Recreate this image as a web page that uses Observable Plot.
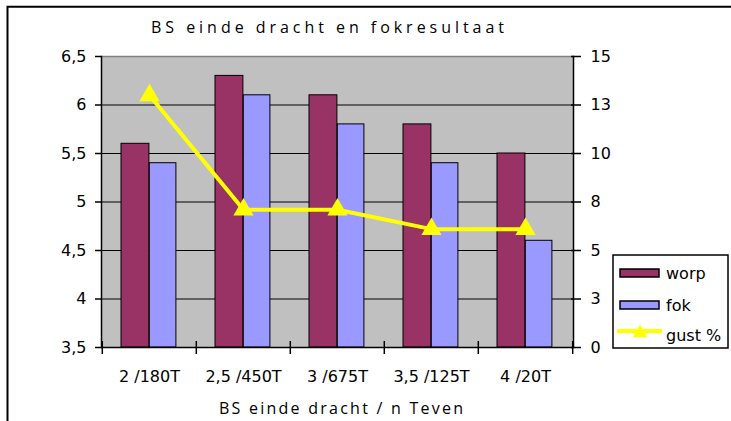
<!DOCTYPE html>
<html><head><meta charset="utf-8">
<script src="https://cdn.jsdelivr.net/npm/d3@7"></script>
<script src="https://cdn.jsdelivr.net/npm/@observablehq/plot@0.6"></script>
<style>body{margin:0;background:#fff;} svg{display:block}</style>
</head><body><div id="chart"></div>
<script>
const categories = ["2 /180T", "2,5 /450T", "3 /675T", "3,5 /125T", "4 /20T"];
const worp = [5.6, 6.3, 6.1, 5.8, 5.5];
const fok = [5.4, 6.1, 5.8, 5.4, 4.6];
const gust = [13.0, 7.1, 7.1, 6.1, 6.1];
const leftTicks = [3.5, 4, 4.5, 5, 5.5, 6, 6.5];
const rightTicks = [0, 2.5, 5, 7.5, 10, 12.5, 15];
const seriesNames = ["worp", "fok", "gust %"];
const title = "BS einde dracht en fokresultaat";
const xTitle = "BS einde dracht / n Teven";

const L0 = 3.5, L1 = 6.5, R0 = 0, R1 = 15;
const toLeft = v => L0 + (v - R0) * (L1 - L0) / (R1 - R0);
const fromLeft = v => R0 + (v - L0) * (R1 - R0) / (L1 - L0);

const data = categories.map((c, i) => ({cat: c, worp: worp[i], fok: fok[i], gust: gust[i]}));

const W = 731, H = 421;
const mL = 101, mR = 158, mT = 56, mB = 74;
const bw = (W - mL - mR) / categories.length;

const fontFam = "'DejaVu Sans', Verdana, sans-serif";

const plot = Plot.plot({
  width: W, height: H,
  marginLeft: mL, marginRight: mR, marginTop: mT, marginBottom: mB,
  style: {fontFamily: fontFam, fontSize: "16px", color: "black", background: "white"},
  x: {domain: categories, padding: 0, axis: null},
  y: {domain: [L0, L1], axis: null},
  marks: [
    Plot.frame({fill: "#c0c0c0", stroke: null}),
    Plot.ruleY([4, 4.5, 5, 5.5, 6], {stroke: "black", strokeWidth: 1}),
    Plot.ruleY([6.5], {stroke: "#808080", strokeWidth: 1.5}),
    Plot.barY(data, {x: "cat", y1: L0, y2: "worp", insetLeft: 19, insetRight: bw - 19 - 28.3, fill: "#993366", stroke: "black", strokeWidth: 1}),
    Plot.barY(data, {x: "cat", y1: L0, y2: "fok", insetLeft: 47.3, insetRight: bw - 47.3 - 27, fill: "#9999ff", stroke: "black", strokeWidth: 1}),
    Plot.ruleY([L0], {stroke: "black", strokeWidth: 1.5}),
    Plot.frame({anchor: "left", stroke: "black", strokeWidth: 1.5}),
    Plot.frame({anchor: "right", stroke: "black", strokeWidth: 1.5}),
    Plot.ruleX(categories, {x: d => d, y1: L0, y2: L0, insetTop: -6, insetBottom: -7, dx: -bw / 2, stroke: "black", strokeWidth: 1.5}),
    Plot.ruleX(categories.slice(-1), {x: d => d, y1: L0, y2: L0, insetTop: -6, insetBottom: -7, dx: bw / 2, stroke: "black", strokeWidth: 1.5}),
    Plot.axisY(leftTicks, {anchor: "left", tickSize: 6, tickPadding: 9, strokeWidth: 1.5, label: null,
      tickFormat: d => String(d).replace(".", ","), fontSize: 16}),
    Plot.axisY(rightTicks.map(toLeft), {anchor: "right", tickSize: 7, tickPadding: 10, strokeWidth: 1.5, label: null,
      tickFormat: d => String(Math.round(fromLeft(d) + 1e-9)), fontSize: 16}),
    Plot.axisY(rightTicks.map(toLeft), {anchor: "right", tickSize: -3, tickPadding: 0, strokeWidth: 1.5, label: null,
      tickFormat: () => ""}),
    Plot.axisX(categories, {anchor: "bottom", tickSize: 0, tickPadding: 23, fontSize: 16, label: null}),
    Plot.line(data, {x: "cat", y: d => toLeft(d.gust), stroke: "#ffff00", strokeWidth: 4}),
    Plot.dot(data, {x: "cat", y: d => toLeft(d.gust), symbol: "triangle", r: 7.5, fill: "#ffff00", stroke: null})
  ]
});

const svg = d3.select(plot);
// outer frame (left and top edges visible)
svg.append("path").attr("d", `M7.5,${H + 5}V6.7H${W + 5}`).attr("fill", "none").attr("stroke", "black").attr("stroke-width", 2);

const titleFont = "'Open Sans', 'DejaVu Sans', sans-serif";
svg.append("text").text(title).attr("x", 151).attr("y", 33)
  .attr("textLength", 353).attr("lengthAdjust", "spacing")
  .attr("style", `font-family:${titleFont};font-size:16px;text-anchor:start;fill:black`);
svg.append("text").text(xTitle).attr("x", 219).attr("y", 414)
  .attr("textLength", 244).attr("lengthAdjust", "spacing")
  .attr("style", `font-family:${titleFont};font-size:16px;text-anchor:start;fill:black`);

// legend
const lg = svg.append("g");
const txtStyle = `font-family:${fontFam};font-size:16px;text-anchor:start;fill:black`;
lg.append("rect").attr("x", 613).attr("y", 255).attr("width", 115).attr("height", 93).attr("fill", "white").attr("stroke", "black").attr("stroke-width", 1.5);
const colors = ["#993366", "#9999ff"];
[273, 305].forEach((cy, i) => {
  lg.append("rect").attr("x", 620).attr("y", cy - 4).attr("width", 39).attr("height", 8).attr("fill", colors[i]).attr("stroke", "black").attr("stroke-width", 1.5);
  lg.append("text").text(seriesNames[i]).attr("x", 666).attr("y", cy).attr("dy", "0.35em").attr("style", txtStyle);
});
{
  const cy = 331;
  lg.append("line").attr("x1", 617).attr("x2", 662).attr("y1", cy).attr("y2", cy).attr("stroke", "#ffff00").attr("stroke-width", 4);
  lg.append("path").attr("d", d3.symbol(d3.symbolTriangle, 5.5 * 5.5 * Math.PI)()).attr("transform", `translate(640,${cy + 2})`).attr("fill", "#ffff00");
  lg.append("text").text(seriesNames[2]).attr("x", 666).attr("y", 335).attr("dy", "0.35em").attr("style", txtStyle);
}

document.getElementById("chart").appendChild(plot);
</script>
</body></html>
